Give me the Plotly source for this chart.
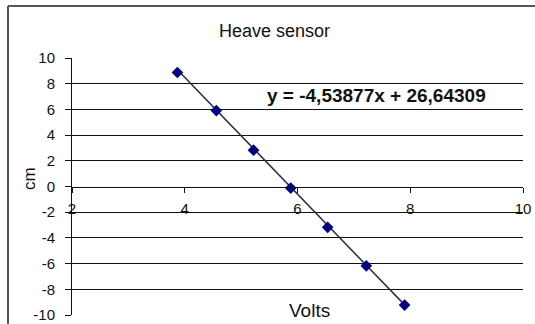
import plotly.graph_objects as go

# Data
volts = [3.87, 4.56, 5.22, 5.88, 6.535, 7.22, 7.90]
cm = [8.87, 5.91, 2.83, -0.12, -3.18, -6.17, -9.23]
slope = -4.53877
intercept = 26.64309
eq_text = "y = -4,53877x + 26,64309"
x_ticks = [2, 4, 6, 8, 10]
y_ticks = [-10, -8, -6, -4, -2, 0, 2, 4, 6, 8, 10]
grid_vals = [-8, -6, -4, -2, 2, 4, 6, 8]

trend_x = [min(volts), max(volts)]
trend_y = [slope * v + intercept for v in trend_x]

FONT = "Liberation Sans, Arial, sans-serif"

fig = go.Figure()
fig.add_trace(go.Scatter(x=trend_x, y=trend_y, mode="lines",
                         line=dict(color="#2b2b4b", width=1.5),
                         hoverinfo="skip", showlegend=False))
fig.add_trace(go.Scatter(x=volts, y=cm, mode="markers",
                         marker=dict(symbol="diamond", size=9, color="#000080"),
                         showlegend=False))
# dummy trace to activate yaxis2 grid
fig.add_trace(go.Scatter(x=[None], y=[None], yaxis="y2", showlegend=False, hoverinfo="skip"))

fig.update_layout(
    width=535, height=324,
    margin=dict(l=72, r=12, t=58, b=9, autoexpand=False),
    showlegend=False,
    paper_bgcolor="white", plot_bgcolor="white",
    font=dict(family=FONT, color="#111111", size=15),
    xaxis=dict(range=[2, 10], tickvals=x_ticks, ticktext=[str(v) for v in x_ticks],
               anchor="free", position=0.5, showgrid=False, zeroline=False,
               showline=True, linecolor="#111111", linewidth=1,
               ticks="outside", ticklen=5, tickcolor="#111111", automargin=False,
               tickfont=dict(size=15, family=FONT, color="#111111"),
               ticklabelstandoff=3),
    yaxis=dict(range=[-10, 10], tickvals=y_ticks, ticktext=[str(v) for v in y_ticks],
               showgrid=False, zeroline=False, showline=True, linecolor="#111111",
               linewidth=1, ticks="outside", ticklen=6, tickcolor="#111111",
               automargin=False, ticklabelstandoff=7,
               tickfont=dict(size=15, family=FONT, color="#111111")),
    yaxis2=dict(range=[-10, 10], overlaying="y", tickvals=grid_vals,
                showgrid=True, gridcolor="#111111", gridwidth=1, automargin=False,
                showticklabels=False, ticks="", zeroline=False, showline=False),
    annotations=[
        dict(text="Heave sensor", xref="paper", yref="paper", x=0.450, y=1.105,
             xanchor="center", yanchor="middle", showarrow=False,
             font=dict(size=18, family=FONT, color="#111111")),
        dict(text="<b>" + eq_text + "</b>", xref="paper", yref="paper", x=0.428, y=0.856,
             xanchor="left", yanchor="middle", showarrow=False,
             font=dict(size=19, family=FONT, color="#111111")),
        dict(text="Volts", xref="paper", yref="paper", x=0.5255, y=0.016,
             xanchor="center", yanchor="middle", showarrow=False,
             font=dict(size=19, family=FONT, color="#111111")),
        dict(text="cm", xref="paper", yref="paper", x=-0.0953, y=0.529,
             xanchor="center", yanchor="middle", showarrow=False, textangle=-90,
             font=dict(size=17, family=FONT, color="#111111")),
    ],
    shapes=[
        dict(type="line", xref="paper", yref="paper", x0=-0.1419, x1=1.05,
             y0=1.2023, y1=1.2023, line=dict(color="#555555", width=2)),
        dict(type="line", xref="paper", yref="paper", x0=-0.1419, x1=-0.1419,
             y0=1.2023, y1=-0.05, line=dict(color="#555555", width=2)),
    ],
)

fig.write_html("out.html")
